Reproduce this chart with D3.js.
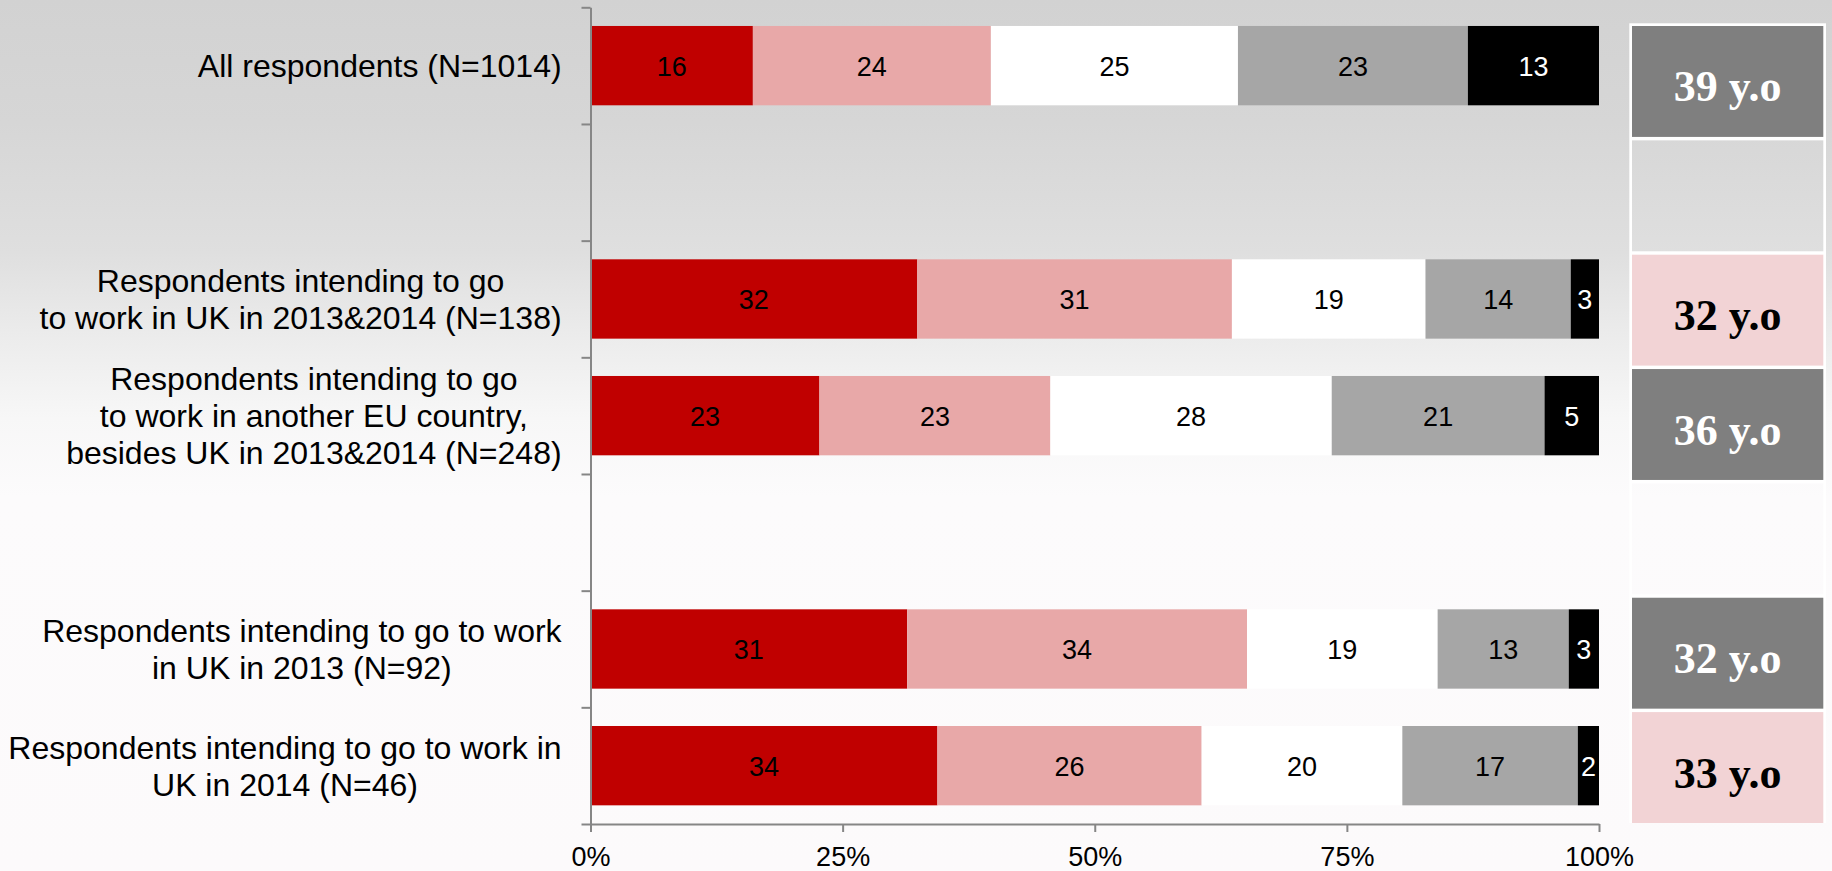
<!DOCTYPE html>
<html>
<head>
<meta charset="utf-8">
<script src="https://cdn.jsdelivr.net/npm/d3@7"></script>
<style>
  html, body { margin: 0; padding: 0; background: #fcfbfc; }
  svg { display: block; }
  text { font-family: Arial, "Liberation Sans", sans-serif; }
  text.age { font-family: "Liberation Serif", "DejaVu Serif", serif; font-weight: bold; }
</style>
</head>
<body>
<svg id="chart" width="1832" height="871"></svg>
<script>
// ---------- DATA ----------
const categories = [
  ["All respondents (N=1014)"],
  [],
  ["Respondents intending to go", "to work in UK in 2013&2014 (N=138)"],
  ["Respondents intending to go", "to work in another EU country,", "besides UK in 2013&2014 (N=248)"],
  [],
  ["Respondents intending to go to work", "in UK in 2013 (N=92)"],
  ["Respondents intending to go to work in", "UK in 2014 (N=46)"]
];
const seriesNames = ["s1", "s2", "s3", "s4", "s5"];
const s1 = [16.1, null, 32.4, 22.7, null, 31.4, 34.4];
const s2 = [23.6, null, 31.2, 22.9, null, 33.7, 26.2];
const s3 = [24.5, null, 19.2, 27.9, null, 18.9, 19.9];
const s4 = [22.8, null, 14.4, 21.1, null, 13.0, 17.4];
const s5 = [13.0, null, 2.8, 5.4, null, 3.0, 2.1];
const seriesColors = ["#c00000", "#e8a8a8", "#ffffff", "#a6a6a6", "#000000"];
const labelColors = ["#000", "#000", "#000", "#000", "#fff"];
const xTicks = [0, 25, 50, 75, 100];
const ages = ["39 y.o", "", "32 y.o", "36 y.o", "", "32 y.o", "33 y.o"];
const ageStyle = ["dark", "none", "pink", "dark", "none", "dark", "pink"];

// ---------- SETUP ----------
const svg = d3.select("#chart");
const W = 1832, H = 871;

const defs = svg.append("defs");
const grad = defs.append("linearGradient").attr("id", "bg")
  .attr("gradientUnits", "userSpaceOnUse")
  .attr("x1", 0).attr("y1", 0).attr("x2", 0).attr("y2", H);
[[0, "#d2d2d2"], [0.14, "#d6d6d6"], [0.29, "#dfdfdf"], [0.38, "#ebebeb"],
 [0.48, "#f7f7f7"], [0.57, "#fcfbfc"], [1, "#fcfafb"]]
  .forEach(([o, c]) => grad.append("stop").attr("offset", o).attr("stop-color", c));

svg.append("rect").attr("width", W).attr("height", H).attr("fill", "url(#bg)");

const x = d3.scaleLinear().domain([0, 100]).range([590.5, 1599]);
const rows = d3.range(categories.length);
const y = d3.scaleBand().domain(rows).range([7.3, 824]).paddingInner(0.32).paddingOuter(0.16);
const yEdges = d3.scaleLinear().domain([0, rows.length]).range([7.3, 824]);

// stack
const allSeries = [s1, s2, s3, s4, s5];
const stackRows = rows.filter(i => s1[i] != null).map(i => {
  const o = { row: i };
  seriesNames.forEach((n, k) => o[n] = allSeries[k][i]);
  return o;
});
const stacked = d3.stack().keys(seriesNames)(stackRows);

const gBars = svg.append("g");
stacked.forEach((layer, k) => {
  const g = gBars.append("g");
  g.selectAll("rect").data(layer).join("rect")
    .attr("x", d => x(d[0]))
    .attr("width", d => x(d[1]) - x(d[0]))
    .attr("y", d => y(d.data.row))
    .attr("height", y.bandwidth())
    .attr("fill", seriesColors[k]);
  g.selectAll("text").data(layer).join("text")
    .attr("x", d => (x(d[0]) + x(d[1])) / 2)
    .attr("y", d => y(d.data.row) + y.bandwidth() / 2 + 10)
    .attr("text-anchor", "middle")
    .attr("font-size", 27)
    .attr("fill", labelColors[k])
    .text(d => Math.round(d[1] - d[0]));
});

// Y axis (category boundaries)
const yAxis = svg.append("g").attr("transform", "translate(590.5,0)")
  .call(d3.axisLeft(yEdges).tickValues(d3.range(rows.length + 1)).tickFormat("").tickSize(9).tickSizeOuter(0));
yAxis.selectAll("path, line").attr("stroke", "#868686").attr("stroke-width", 2);

// X axis
const xAxis = svg.append("g").attr("transform", "translate(0,824)")
  .call(d3.axisBottom(x).tickValues(xTicks).tickFormat(d => d + "%").tickSize(8).tickSizeOuter(0));
xAxis.selectAll("path, line").attr("stroke", "#868686").attr("stroke-width", 2);
xAxis.selectAll("text").attr("font-size", 27).attr("fill", "#000").attr("y", 23);

// Category labels: lines centered within block, block right aligned
const lh = 36.8, capHalf = 11.5, rightEdge = 561.6;
const gLab = svg.append("g");
rows.forEach(i => {
  const lines = categories[i];
  if (!lines.length) return;
  const cy = y(i) + y.bandwidth() / 2;
  const t = gLab.append("text").attr("font-size", 32).attr("fill", "#000").attr("text-anchor", "middle");
  lines.forEach((ln, j) => {
    t.append("tspan").attr("x", 0)
      .attr("y", cy - (lines.length - 1) * lh / 2 + capHalf + j * lh)
      .text(ln);
  });
  const maxW = d3.max(t.selectAll("tspan").nodes(), n => n.getComputedTextLength());
  t.attr("transform", `translate(${rightEdge - maxW / 2},0)`);
});

// Age table
const yBox = d3.scaleBand().domain(rows).range([26, 823]).paddingInner(0.03);
const boxX0 = 1632, boxX1 = 1823.3;
const gBox = svg.append("g");
gBox.append("rect").attr("x", boxX0 - 2.7).attr("y", yBox(0) - 2.7)
  .attr("width", boxX1 - boxX0 + 5.4).attr("height", yBox(rows.length - 1) + yBox.bandwidth() - yBox(0) + 2.7)
  .attr("fill", "#ffffff");
const boxFill = { dark: "#7f7f7f", pink: "#f2d3d5", none: "url(#bg)" };
const boxText = { dark: "#ffffff", pink: "#000000", none: "#000" };
gBox.selectAll("rect.cell").data(rows).join("rect").attr("class", "cell")
  .attr("x", boxX0).attr("width", boxX1 - boxX0)
  .attr("y", i => yBox(i)).attr("height", yBox.bandwidth())
  .attr("fill", i => boxFill[ageStyle[i]]);
gBox.selectAll("text").data(rows.filter(i => ages[i])).join("text")
  .attr("class", "age")
  .attr("x", (boxX0 + boxX1) / 2)
  .attr("y", i => yBox(i) + yBox.bandwidth() / 2 + 20)
  .attr("text-anchor", "middle")
  .attr("font-size", 44)
  .attr("fill", i => boxText[ageStyle[i]])
  .text(i => ages[i]);
</script>
</body>
</html>
